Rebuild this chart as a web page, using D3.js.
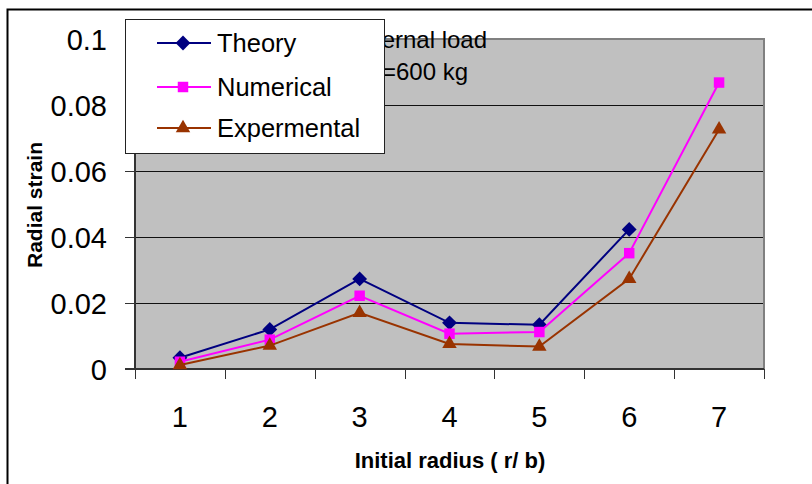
<!DOCTYPE html>
<html>
<head>
<meta charset="utf-8">
<script src="https://cdn.jsdelivr.net/npm/d3@7"></script>
<style>
  html, body { margin: 0; padding: 0; background: #fff; }
  svg { display: block; font-family: Arial, "Liberation Sans", sans-serif; }
</style>
</head>
<body>
<svg id="chart" width="812" height="484"></svg>
<script>
// Radial strain against initial radius (r/b), external load P = 600 kg
const categories = [1, 2, 3, 4, 5, 6, 7];
const theory       = [0.0034, 0.0120, 0.0273, 0.0140, 0.0134, 0.0423, null];
const numerical    = [0.0022, 0.0089, 0.0222, 0.0107, 0.0112, 0.0351, 0.0868];
const experimental = [0.0012, 0.0071, 0.0170, 0.0076, 0.0068, 0.0273, 0.0726];
const yTicks = [0, 0.02, 0.04, 0.06, 0.08, 0.1];
const yTickLabels = ["0", "0.02", "0.04", "0.06", "0.08", "0.1"];
const seriesNames = ["Theory", "Numerical", "Expermental"];
const noteLines = ["External load", "P=600 kg"];

const series = [
  { name: seriesNames[0], values: theory,       color: "#000080", symbol: d3.symbolDiamond2 },
  { name: seriesNames[1], values: numerical,    color: "#FF00FF", symbol: d3.symbolSquare2 },
  { name: seriesNames[2], values: experimental, color: "#993300", symbol: d3.symbolTriangle2 }
];

const svg = d3.select("#chart");
const plot = { left: 135, right: 764, top: 39, bottom: 369 };

// Outer chart frame (its right and bottom edges run off the page)
svg.append("rect")
  .attr("x", 7.5).attr("y", 9.5)
  .attr("width", 900).attr("height", 600)
  .attr("fill", "#fff").attr("stroke", "#000").attr("stroke-width", 2);

const x = d3.scaleBand().domain(categories).range([plot.left, plot.right]).padding(0);
const y = d3.scaleLinear().domain([0, 0.1]).range([plot.bottom, plot.top]);

// Plot area
svg.append("rect")
  .attr("x", plot.left).attr("y", plot.top)
  .attr("width", plot.right - plot.left).attr("height", plot.bottom - plot.top)
  .attr("fill", "#C0C0C0");

// Horizontal gridlines
svg.append("g")
  .selectAll("line")
  .data(yTicks.filter(v => v > 0 && v < 0.1))
  .join("line")
  .attr("x1", plot.left).attr("x2", plot.right)
  .attr("y1", d => Math.round(y(d)) + 0.5).attr("y2", d => Math.round(y(d)) + 0.5)
  .attr("stroke", "#111").attr("stroke-width", 1);

// Plot border (top and right in grey)
svg.append("path")
  .attr("d", `M${plot.left},${plot.top}H${plot.right}V${plot.bottom}`)
  .attr("fill", "none").attr("stroke", "#808080").attr("stroke-width", 2);

// Annotation, partly covered by the legend
const note = svg.append("text")
  .attr("x", 417).attr("y", 48)
  .attr("text-anchor", "middle")
  .attr("font-size", 24).attr("fill", "#000");
note.selectAll("tspan").data(noteLines).join("tspan")
  .attr("x", 417).attr("dy", (d, i) => i === 0 ? 0 : 32)
  .text(d => d);

// Y axis
const yAxis = d3.axisLeft(y)
  .tickValues(yTicks)
  .tickFormat((d, i) => yTickLabels[i])
  .tickSize(10).tickPadding(18);
const gy = svg.append("g").attr("transform", `translate(${plot.left},0)`).call(yAxis);
gy.select(".domain").attr("stroke", "#333").attr("stroke-width", 2).attr("d", `M-10,${plot.bottom}H0V${plot.top}`);
gy.selectAll(".tick line").attr("stroke", "#333").attr("stroke-width", 1);
gy.selectAll(".tick").filter(d => d === 0).select("line").remove();
gy.selectAll(".tick text")
  .attr("font-size", 29).attr("fill", "#000")
  .attr("font-family", "Arial, 'Liberation Sans', sans-serif")
  .attr("dy", "0.36em");

// X axis: ticks on band boundaries, labels at band centres
const gx = svg.append("g").attr("transform", `translate(0,${plot.bottom})`);
gx.append("line")
  .attr("x1", plot.left).attr("x2", plot.right)
  .attr("y1", 0).attr("y2", 0)
  .attr("stroke", "#333").attr("stroke-width", 2);
const boundaries = categories.map(c => x(c)).concat([x(categories[categories.length - 1]) + x.bandwidth()]);
gx.selectAll("line.tk").data(boundaries).join("line")
  .attr("class", "tk")
  .attr("x1", d => Math.round(d) + 0.5).attr("x2", d => Math.round(d) + 0.5)
  .attr("y1", 0).attr("y2", 10)
  .attr("stroke", "#333").attr("stroke-width", 1);
gx.selectAll("text").data(categories).join("text")
  .attr("x", d => x(d) + x.bandwidth() / 2)
  .attr("y", 58)
  .attr("text-anchor", "middle")
  .attr("font-size", 29).attr("fill", "#000")
  .text(d => d);

// Axis titles
svg.append("text")
  .attr("x", 450).attr("y", 468)
  .attr("text-anchor", "middle")
  .attr("font-size", 22).attr("font-weight", "bold")
  .text("Initial radius ( r/ b)");
svg.append("text")
  .attr("transform", "translate(42,205) rotate(-90)")
  .attr("text-anchor", "middle")
  .attr("font-size", 21).attr("font-weight", "bold")
  .text("Radial strain");

// Series lines and markers
const cx = d => x(d) + x.bandwidth() / 2;
series.forEach(s => {
  const pts = categories.map((c, i) => ({ c, v: s.values[i] })).filter(p => p.v !== null);
  svg.append("path")
    .datum(pts)
    .attr("fill", "none")
    .attr("stroke", s.color)
    .attr("stroke-width", 2)
    .attr("d", d3.line().x(p => cx(p.c)).y(p => y(p.v)));
  svg.append("g").selectAll("path")
    .data(pts)
    .join("path")
    .attr("transform", p => `translate(${cx(p.c)},${y(p.v)})`)
    .attr("d", d3.symbol().type(s.symbol).size(s.symbol === d3.symbolTriangle2 ? 150 : 140))
    .attr("fill", s.color);
});

// Legend
const legend = svg.append("g");
legend.append("rect")
  .attr("x", 125.5).attr("y", 19.5)
  .attr("width", 259).attr("height", 134)
  .attr("fill", "#fff").attr("stroke", "#222").attr("stroke-width", 1);
const rowsY = [43, 87, 128];
series.forEach((s, i) => {
  const row = legend.append("g").attr("transform", `translate(0,${rowsY[i]})`);
  row.append("line")
    .attr("x1", 157).attr("x2", 211)
    .attr("stroke", s.color).attr("stroke-width", 2);
  row.append("path")
    .attr("transform", "translate(183,0)")
    .attr("d", d3.symbol().type(s.symbol).size(s.symbol === d3.symbolTriangle2 ? 150 : 140))
    .attr("fill", s.color);
  row.append("text")
    .attr("x", 217).attr("y", 0).attr("dy", "0.36em")
    .attr("font-size", 25.5).attr("fill", "#000")
    .text(s.name);
});
</script>
</body>
</html>
